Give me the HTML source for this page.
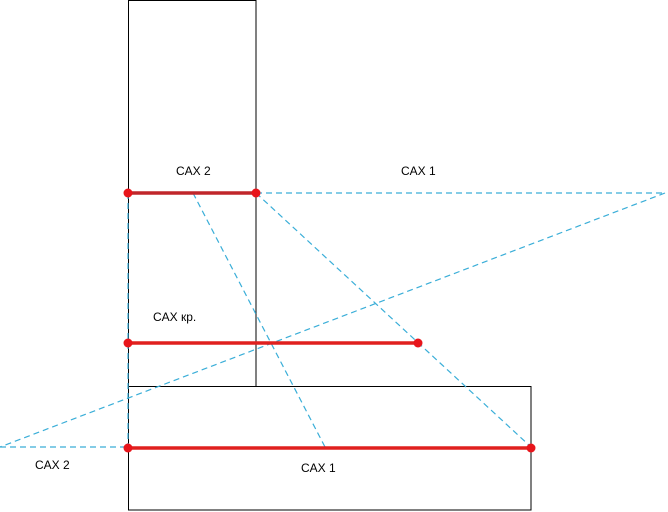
<!DOCTYPE html>
<html><head><meta charset="utf-8"><style>body{margin:0;background:#fff}svg{display:block}text{font-family:"Liberation Sans",sans-serif;font-size:12px;fill:#000}</style></head><body>
<svg width="668" height="512" viewBox="0 0 668 512">
<rect x="128.5" y="0.5" width="127.5" height="386" fill="none" stroke="#000" stroke-width="1"/>
<rect x="128.5" y="386.5" width="402.5" height="123.5" fill="#fff" stroke="#000" stroke-width="1"/>
<g stroke="#3aaed8" stroke-width="1.2" stroke-dasharray="6,4" fill="none">
<line x1="256" y1="193" x2="665" y2="193"/>
<line x1="665" y1="193" x2="0" y2="447"/>
<line x1="0" y1="447" x2="128" y2="447"/>
<line x1="128" y1="193" x2="128" y2="448"/>
<line x1="193" y1="193" x2="325" y2="447"/>
<line x1="256" y1="193" x2="531" y2="447"/>
</g>
<g stroke-width="3.5">
<line x1="128" y1="193" x2="256" y2="193" stroke="#c0262a"/>
<line x1="128" y1="343" x2="418" y2="343" stroke="#e0201e"/>
<line x1="128" y1="448" x2="531" y2="448" stroke="#e0201e"/>
</g>
<g fill="#e8151b">
<circle cx="128" cy="193" r="4.5"/><circle cx="256" cy="193" r="4.5"/>
<circle cx="128" cy="343" r="4.5"/><circle cx="418" cy="343" r="4.5"/>
<circle cx="128" cy="448" r="4.5"/><circle cx="531" cy="448" r="4.5"/>
</g>
<text x="176" y="175">CAX 2</text>
<text x="401" y="175">CAX 1</text>
<text x="153" y="321">CAX кр.</text>
<text x="35" y="469">CAX 2</text>
<text x="301" y="472">CAX 1</text>
</svg>
</body></html>
